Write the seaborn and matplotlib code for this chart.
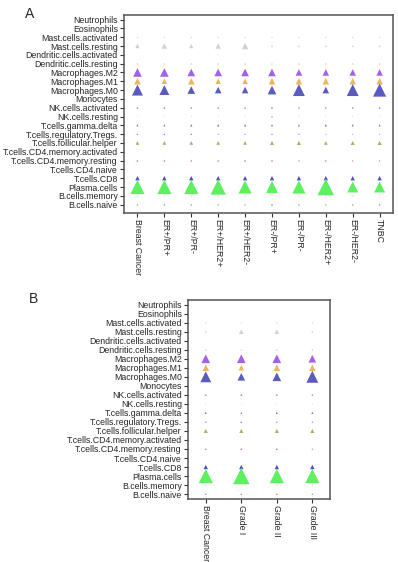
import numpy as np
import matplotlib
matplotlib.use("Agg")
import matplotlib.pyplot as plt
import pandas as pd
import seaborn as sns

# immune cell types, top to bottom
cell_types = ["Neutrophils", "Eosinophils", "Mast.cells.activated", "Mast.cells.resting",
              "Dendritic.cells.activated", "Dendritic.cells.resting", "Macrophages.M2",
              "Macrophages.M1", "Macrophages.M0", "Monocytes", "NK.cells.activated",
              "NK.cells.resting", "T.cells.gamma.delta", "T.cells.regulatory.Tregs.",
              "T.cells.follicular.helper", "T.cells.CD4.memory.activated",
              "T.cells.CD4.memory.resting", "T.cells.CD4.naive", "T.cells.CD8",
              "Plasma.cells", "B.cells.memory", "B.cells.naive"]

cell_colors = ["#ebe4d6", "#e6e6e6", "#cdcdcd", "#d2d2d2", "#e4dccb", "#f0c273",
               "#a660e6", "#efb55c", "#5a5abf", "#dcdcea", "#9c92b8", "#a4a4c4",
               "#8c6c92", "#8484de", "#b2aa64", "#e4d4e4", "#e274c8", "#d6d6e4",
               "#4f4fc2", "#5ef05e", "#f0c4b4", "#9a9ab2"]

# panel A: molecular subtypes (estimated fractions)
subtypes_a = ["Breast Cancer", "ER+/PR+", "ER+/PR-", "ER+/HER2+", "ER+/HER2-",
              "ER-/PR+", "ER-/PR-", "ER-/HER2+", "ER-/HER2-", "TNBC"]
breast_cancer = [0.001, 0.0005, 0.003, 0.026, 0.0008, 0.004, 0.10, 0.058, 0.16, 0.0008, 0.006,
                 0.001, 0.006, 0.004, 0.018, 0.0008, 0.006, 0.0008, 0.026, 0.27, 0.003, 0.005]
er_pos_pr_pos = [0.001, 0.0005, 0.003, 0.04, 0.0008, 0.004, 0.10, 0.04, 0.13, 0.0008, 0.006,
                 0.001, 0.006, 0.004, 0.018, 0.0008, 0.006, 0.0008, 0.026, 0.27, 0.003, 0.005]
er_pos_pr_neg = [0.001, 0.0005, 0.003, 0.026, 0.0008, 0.004, 0.078, 0.058, 0.078, 0.0008, 0.006,
                 0.001, 0.007, 0.004, 0.018, 0.0008, 0.006, 0.0008, 0.026, 0.27, 0.003, 0.005]
er_pos_her2_pos = [0.001, 0.0005, 0.003, 0.04, 0.0008, 0.004, 0.078, 0.04, 0.058, 0.0008, 0.006,
                   0.001, 0.007, 0.003, 0.018, 0.0008, 0.006, 0.0008, 0.026, 0.31, 0.003, 0.004]
er_pos_her2_neg = [0.001, 0.0005, 0.003, 0.058, 0.0008, 0.004, 0.078, 0.04, 0.058, 0.0008, 0.006,
                   0.001, 0.007, 0.003, 0.018, 0.0008, 0.006, 0.0008, 0.026, 0.23, 0.003, 0.004]
er_neg_pr_pos = [0.001, 0.0005, 0.003, 0.006, 0.0008, 0.004, 0.078, 0.058, 0.10, 0.0008, 0.006,
                 0.005, 0.006, 0.004, 0.022, 0.0008, 0.006, 0.0008, 0.026, 0.19, 0.003, 0.007]
er_neg_pr_neg = [0.001, 0.0005, 0.003, 0.006, 0.0008, 0.004, 0.058, 0.058, 0.19, 0.0008, 0.005,
                 0.001, 0.006, 0.003, 0.022, 0.0008, 0.004, 0.0008, 0.026, 0.23, 0.003, 0.005]
er_neg_her2_pos = [0.001, 0.0005, 0.003, 0.006, 0.0008, 0.004, 0.058, 0.058, 0.058, 0.0008, 0.005,
                   0.001, 0.007, 0.002, 0.018, 0.0008, 0.006, 0.0008, 0.026, 0.36, 0.003, 0.004]
er_neg_her2_neg = [0.001, 0.0005, 0.003, 0.006, 0.0008, 0.004, 0.058, 0.058, 0.19, 0.0008, 0.006,
                   0.001, 0.006, 0.002, 0.022, 0.0008, 0.004, 0.0008, 0.026, 0.16, 0.003, 0.005]
tnbc = [0.001, 0.0005, 0.003, 0.006, 0.0008, 0.004, 0.058, 0.058, 0.23, 0.0008, 0.006,
        0.001, 0.006, 0.002, 0.022, 0.0008, 0.004, 0.0008, 0.026, 0.16, 0.003, 0.005]

# panel B: histological grade
grades_b = ["Breast Cancer", "Grade I", "Grade II", "Grade III"]
breast_cancer_b = [0.001, 0.0005, 0.003, 0.006, 0.0008, 0.004, 0.10, 0.058, 0.16, 0.0008, 0.006,
                   0.001, 0.006, 0.004, 0.022, 0.0008, 0.006, 0.0008, 0.026, 0.27, 0.003, 0.005]
grade_1 = [0.001, 0.0005, 0.003, 0.03, 0.0008, 0.004, 0.10, 0.04, 0.078, 0.0008, 0.006,
           0.001, 0.005, 0.005, 0.022, 0.0008, 0.006, 0.0008, 0.026, 0.36, 0.003, 0.005]
grade_2 = [0.001, 0.0005, 0.003, 0.03, 0.0008, 0.004, 0.10, 0.058, 0.10, 0.0008, 0.006,
           0.001, 0.006, 0.004, 0.022, 0.0008, 0.006, 0.0008, 0.026, 0.27, 0.003, 0.005]
grade_3 = [0.001, 0.0005, 0.003, 0.006, 0.0008, 0.004, 0.078, 0.058, 0.19, 0.0008, 0.005,
           0.001, 0.006, 0.004, 0.022, 0.0008, 0.004, 0.0008, 0.026, 0.27, 0.003, 0.005]

cols_a = [breast_cancer, er_pos_pr_pos, er_pos_pr_neg, er_pos_her2_pos, er_pos_her2_neg,
          er_neg_pr_pos, er_neg_pr_neg, er_neg_her2_pos, er_neg_her2_neg, tnbc]
cols_b = [breast_cancer_b, grade_1, grade_2, grade_3]


def long_table(groups, columns):
    rows = []
    for g, vals in zip(groups, columns):
        for c, v in zip(cell_types, vals):
            rows.append({"group": g, "cell": c, "value": v})
    return pd.DataFrame(rows)


sns.set_style("ticks")
plt.rcParams["font.family"] = ["Liberation Sans", "DejaVu Sans"]
palette = dict(zip(cell_types, cell_colors))

fig = plt.figure(figsize=(3.98, 5.62), dpi=100)
ax_a = fig.add_axes([0.3116, 0.621, 0.676, 0.352])
ax_b = fig.add_axes([0.4724, 0.112, 0.357, 0.354])


def draw(ax, groups, columns, ymax):
    df = long_table(groups, columns)
    sns.scatterplot(data=df, x="group", y="cell", hue="cell", palette=palette,
                    size="value", sizes=(0, 390), size_norm=(0, 1), marker="^",
                    linewidth=0, legend=False, ax=ax)
    ax.set_xlim(-0.5, len(groups) - 0.5)
    ax.set_ylim(ymax, -0.5)
    ax.set_xlabel("")
    ax.set_ylabel("")
    ax.tick_params(axis="both", direction="out", length=3, width=0.8,
                   color="#333333", labelsize=6.3, pad=1.5)
    for lab in ax.get_xticklabels():
        lab.set_rotation(270)
        lab.set_va("top")
        lab.set_ha("center")
    for sp in ax.spines.values():
        sp.set_linewidth(1.1)
        sp.set_color("#555555")


draw(ax_a, subtypes_a, cols_a, 21.95)
draw(ax_b, grades_b, cols_b, 21.55)

fig.text(0.075, 0.987, "A", fontsize=10, va="top", ha="center")
fig.text(0.083, 0.480, "B", fontsize=10, va="top", ha="center")

fig.savefig("out.png", dpi=100)
